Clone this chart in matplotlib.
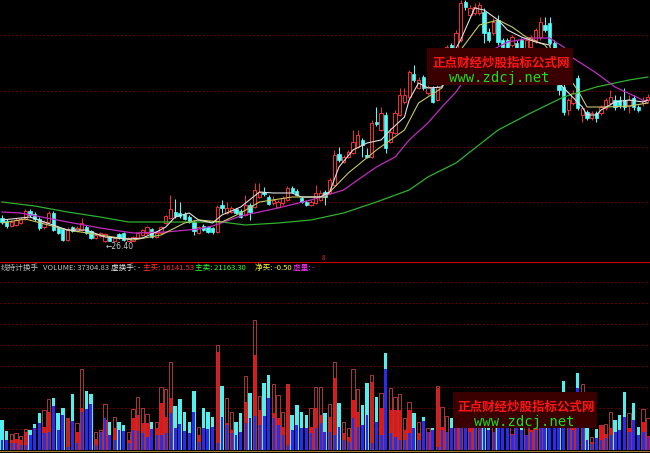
import numpy as np
import matplotlib
matplotlib.use('Agg')
import matplotlib.pyplot as plt
from matplotlib.patches import Rectangle

plt.rcParams['font.family'] = ['Noto Sans CJK SC', 'DejaVu Sans']

# daily candles (price units)
opens = [28.8, 28.5, 28.0, 28.1, 28.3, 28.7, 29.5, 29.2, 28.7, 27.9,
         28.4, 29.3, 27.8, 27.7, 26.6, 27.9, 27.5, 27.6, 27.9, 27.5,
         26.8, 27.0, 26.5, 26.9, 26.5, 27.2, 27.3, 26.5, 26.5, 26.8,
         27.1, 27.3, 27.7, 26.9, 27.3, 28.3, 28.8, 29.4, 29.3, 29.2,
         28.9, 28.4, 27.3, 28.0, 27.9, 27.8, 27.4, 30.1, 29.3, 29.4,
         29.7, 29.5, 29.1, 30.1, 29.9, 30.9, 31.4, 30.9, 30.3, 29.9,
         30.3, 30.6, 31.8, 31.5, 30.8, 30.4, 30.1, 30.3, 30.6, 31.4,
         31.3, 32.1, 35.2, 34.4, 34.9, 35.3, 35.9, 36.6, 35.1, 34.9,
         38.4, 37.6, 39.1, 36.4, 37.3, 39.1, 40.4, 40.9, 43.2, 41.8,
         42.9, 41.3, 41.8, 40.6, 43.1, 45.1, 46.1, 45.8, 46.6, 50.4,
         49.1, 49.3, 49.3, 49.4, 47.4, 47.3, 48.6, 46.6, 46.6, 46.1,
         46.3, 46.6, 45.8, 45.9, 46.6, 46.9, 48.1, 48.3, 46.3, 42.1,
         41.9, 39.6, 40.3, 42.8, 39.1, 39.4, 38.8, 39.3, 39.3, 39.8,
         40.3, 40.6, 40.6, 40.6, 40.0, 40.8, 39.9, 40.3, 40.6]
closes = [28.4, 28.0, 28.4, 28.6, 28.7, 29.5, 29.1, 28.7, 27.8, 28.4,
          29.3, 27.6, 27.3, 26.6, 27.7, 27.5, 27.8, 28.3, 27.3, 26.8,
          27.1, 27.3, 27.2, 26.5, 26.8, 26.8, 26.6, 26.8, 26.9, 27.3,
          27.6, 27.9, 26.9, 27.3, 27.9, 29.0, 29.7, 29.0, 29.0, 28.7,
          28.4, 27.5, 27.9, 27.6, 27.4, 27.4, 29.9, 29.8, 29.8, 29.8,
          29.3, 28.9, 30.1, 29.4, 31.6, 31.4, 31.2, 30.2, 30.6, 30.4,
          30.8, 31.8, 31.4, 31.1, 30.4, 30.1, 30.4, 31.3, 31.3, 30.9,
          32.6, 35.1, 34.6, 34.9, 35.4, 36.4, 37.1, 36.1, 34.9, 38.3,
          38.2, 39.3, 35.8, 37.4, 39.3, 41.1, 41.1, 43.4, 42.6, 42.6,
          41.8, 41.9, 40.4, 41.9, 45.1, 45.9, 45.4, 47.3, 50.3, 49.9,
          49.8, 49.9, 50.1, 47.3, 46.6, 48.4, 46.4, 45.9, 45.8, 46.9,
          45.6, 45.8, 46.6, 46.9, 47.6, 48.4, 47.6, 46.3, 43.6, 41.6,
          39.4, 40.6, 41.3, 39.8, 39.8, 38.8, 39.3, 38.8, 39.9, 40.6,
          40.9, 39.9, 40.1, 39.9, 40.6, 39.9, 39.6, 40.6, 40.9]
highs = [29.1, 28.7, 28.6, 28.8, 28.9, 29.7, 29.7, 29.4, 28.9, 28.6,
         29.5, 29.5, 28.0, 27.8, 27.9, 28.0, 28.0, 28.8, 28.1, 27.6,
         27.2, 27.4, 27.3, 27.0, 26.9, 27.3, 27.4, 26.9, 27.0, 27.4,
         27.7, 28.0, 27.8, 27.5, 28.0, 29.1, 31.1, 30.7, 30.4, 29.4,
         29.1, 28.6, 28.0, 28.2, 28.0, 27.9, 30.1, 30.6, 30.4, 30.0,
         29.8, 29.7, 31.1, 30.3, 32.3, 32.3, 31.9, 31.1, 31.0, 30.6,
         31.0, 32.0, 32.0, 31.7, 30.9, 30.6, 30.6, 32.1, 31.6, 31.6,
         32.8, 35.6, 35.9, 35.1, 35.6, 37.6, 37.6, 36.8, 35.8, 38.6,
         39.9, 39.9, 39.4, 37.8, 39.6, 41.8, 41.8, 43.6, 44.1, 42.9,
         43.1, 42.1, 42.0, 42.1, 45.6, 46.1, 46.3, 47.6, 50.6, 50.6,
         50.1, 50.3, 50.4, 49.8, 47.8, 48.8, 49.1, 46.8, 46.8, 47.1,
         46.6, 46.8, 46.8, 47.1, 47.8, 48.9, 48.9, 48.9, 46.6, 43.1,
         42.6, 40.8, 41.6, 43.1, 40.0, 39.6, 39.5, 39.5, 40.1, 40.8,
         41.6, 41.1, 41.0, 41.8, 41.1, 41.1, 40.1, 40.9, 41.2]
lows = [28.2, 27.8, 27.9, 28.0, 28.2, 28.6, 28.9, 28.5, 27.6, 27.7,
        28.3, 27.5, 27.2, 26.5, 26.5, 27.4, 27.4, 27.5, 27.2, 26.7,
        26.7, 26.9, 26.4, 26.5, 26.5, 26.7, 26.5, 26.5, 26.5, 26.7,
        27.0, 27.2, 26.8, 26.8, 27.2, 28.2, 28.7, 28.8, 28.8, 28.6,
        28.3, 27.1, 27.2, 27.5, 27.3, 27.2, 27.3, 29.3, 29.2, 29.3,
        29.2, 28.8, 29.0, 28.6, 29.8, 30.8, 31.0, 30.1, 30.1, 29.8,
        30.1, 30.5, 31.3, 31.0, 30.3, 30.0, 30.0, 30.2, 30.5, 30.1,
        31.2, 32.0, 34.4, 34.3, 34.8, 35.2, 35.8, 34.9, 34.8, 34.8,
        38.0, 37.5, 35.3, 36.3, 37.2, 39.0, 40.2, 40.8, 42.4, 41.7,
        41.6, 41.1, 40.3, 40.5, 42.9, 44.8, 45.1, 45.6, 46.4, 49.6,
        48.9, 49.1, 49.1, 46.3, 46.4, 47.1, 46.1, 45.6, 45.6, 45.9,
        45.1, 45.4, 45.4, 45.6, 46.3, 46.6, 47.4, 46.1, 43.1, 41.1,
        39.1, 39.1, 40.1, 39.6, 38.4, 38.6, 38.6, 38.4, 39.1, 39.6,
        40.1, 39.6, 39.8, 39.6, 39.3, 39.6, 39.4, 40.0, 40.4]

# moving averages (bar index, price)
ma5_idx = [0, 6, 9, 14, 18, 22, 27, 30, 33, 35, 37, 40, 42, 45, 47, 51, 55, 58, 62, 64,
           68, 70, 72, 75, 78, 81, 83, 86, 87, 89, 91, 94, 95, 98, 101, 103, 106, 108, 111, 114,
           117, 119, 124, 125, 127, 128, 131, 134, 137, 138]
ma5_val = [28.6, 28.9, 28.4, 27.6, 27.6, 26.9, 26.7, 26.8, 27.4, 27.9, 28.9, 29.3, 28.6, 28.3, 29.1, 29.9, 31.4, 31.3, 31.3, 30.9,
           30.9, 31.4, 33.9, 35.6, 36.3, 36.6, 37.6, 38.9, 40.6, 42.3, 41.8, 41.9, 44.1, 46.6, 49.8, 49.6, 48.6, 47.6, 46.9, 46.4,
           46.1, 42.3, 39.9, 39.1, 39.1, 39.6, 40.4, 40.6, 40.4, 40.6]
ma10_idx = [0, 5, 14, 21, 28, 34, 39, 42, 47, 51, 55, 62, 69, 74, 80, 86, 89, 94, 98, 102,
            106, 109, 112, 116, 120, 123, 125, 129, 134, 138]
ma10_val = [28.3, 28.7, 27.6, 27.1, 26.6, 27.1, 28.3, 28.6, 28.4, 29.3, 30.4, 30.9, 30.9, 33.3, 35.6, 37.6, 40.3, 41.8, 45.6, 48.1,
            48.6, 47.9, 46.9, 46.1, 43.6, 41.6, 39.9, 39.9, 40.0, 40.3]
ma20_idx = [0, 4, 14, 21, 28, 35, 42, 45, 51, 59, 66, 73, 76, 80, 84, 87, 91, 94, 97, 100,
            104, 108, 113, 117, 120, 122, 127, 131, 136, 138]
ma20_val = [29.4, 29.3, 28.4, 27.8, 27.3, 27.4, 27.7, 28.0, 29.0, 29.8, 30.6, 31.6, 32.6, 33.9, 34.9, 36.6, 38.3, 39.9, 41.4, 43.4,
            45.4, 46.4, 46.8, 46.8, 45.9, 44.8, 43.3, 41.9, 40.8, 40.3]
ma60_idx = [0, 7, 14, 21, 27, 38, 47, 52, 59, 66, 73, 80, 87, 91, 97, 106, 113, 120, 127, 134, 138]
ma60_val = [30.4, 30.0, 29.4, 28.9, 28.4, 28.4, 28.4, 28.1, 28.3, 28.6, 29.3, 30.4, 31.6, 32.9, 34.3, 37.6, 39.3, 40.9, 41.9, 42.6, 42.9]

# volume panel: total, main-buy part (up days), blue part
volume = [30, 19, 16, 17, 14, 21, 20, 26, 37, 40, 51, 52, 37, 42, 32, 56, 27, 81, 59, 56,
          18, 20, 46, 28, 33, 28, 25, 18, 41, 53, 42, 36, 28, 28, 63, 61, 88, 44, 51, 38,
          28, 59, 23, 42, 38, 33, 105, 64, 52, 38, 28, 37, 74, 57, 130, 54, 67, 75, 66, 55,
          38, 66, 35, 45, 38, 35, 42, 63, 63, 37, 46, 88, 47, 28, 22, 81, 61, 45, 67, 75,
          53, 57, 97, 62, 53, 56, 32, 48, 37, 28, 33, 22, 22, 64, 43, 34, 32, 40, 55, 45,
          38, 35, 42, 50, 36, 30, 48, 40, 33, 28, 36, 30, 26, 32, 38, 44, 35, 50, 42, 55,
          69, 45, 40, 77, 66, 22, 13, 21, 25, 26, 38, 30, 35, 58, 37, 47, 23, 41, 32]
buy = [0, 0, 10, 11, 10, 18, 0, 0, 0, 23, 38, 0, 0, 0, 32, 0, 18, 42, 0, 0,
       11, 14, 30, 0, 22, 0, 0, 10, 32, 35, 27, 27, 0, 22, 47, 33, 52, 0, 0, 0,
       0, 0, 15, 0, 0, 0, 98, 0, 27, 20, 0, 0, 48, 0, 95, 40, 0, 0, 37, 32,
       23, 66, 0, 0, 0, 0, 23, 42, 35, 0, 33, 72, 0, 17, 13, 50, 38, 0, 0, 68,
       0, 42, 0, 40, 40, 40, 20, 40, 0, 17, 0, 18, 0, 62, 23, 18, 0, 25, 35, 0,
       22, 20, 28, 0, 0, 18, 0, 0, 0, 16, 0, 0, 15, 20, 25, 30, 0, 0, 0, 0,
       0, 28, 25, 0, 45, 0, 8, 0, 25, 16, 22, 0, 0, 0, 22, 0, 0, 28, 14]
blue = [10, 10, 7, 7, 5, 5, 15, 22, 27, 17, 18, 44, 20, 35, 3, 29, 7, 38, 41, 46,
        5, 18, 32, 15, 10, 20, 19, 7, 20, 19, 17, 13, 21, 15, 15, 17, 37, 22, 26, 19,
        17, 38, 8, 22, 21, 23, 7, 33, 25, 17, 15, 18, 27, 32, 34, 25, 34, 52, 32, 25,
        15, 5, 20, 25, 22, 22, 17, 22, 27, 18, 18, 15, 23, 10, 8, 32, 23, 25, 35, 7,
        28, 15, 81, 17, 13, 10, 10, 17, 22, 10, 29, 18, 20, 3, 20, 18, 22, 25, 30, 28,
        18, 22, 25, 32, 20, 18, 30, 25, 22, 15, 24, 20, 15, 18, 20, 22, 25, 30, 28, 35,
        22, 25, 20, 62, 30, 10, 6, 12, 10, 12, 15, 18, 20, 33, 18, 30, 15, 18, 13]

price_grid = [30.4, 35.9, 41.5, 47.1]
vol_grid = [21, 42, 63, 84, 105, 126, 147, 168]

header = [('线持计换手', '#c0c0c0'), ('VOLUME: 37304.83', '#c0c0c0'), ('虚换手: -', '#e8e8e8'),
          ('主买: 16141.53', '#ff3030'), ('主卖: 21163.30', '#30ff30'),
          ('净买: -0.50', '#ffff30'), ('虚量: -', '#ff30ff')]
header_x = [1, 43, 111, 143, 195, 255, 293]

RED = '#e83030'
CYAN = '#54fcfc'

o = np.array(opens); c = np.array(closes)
h = np.array(highs); l = np.array(lows)
n = len(o)
x = np.arange(n)
up = c >= o

fig = plt.figure(figsize=(6.5, 4.53), dpi=100, facecolor='black')
W, H = 650.0, 453.0
ax = fig.add_axes([0, (H - 262) / H, 1, 262 / H], facecolor='black')
ax2 = fig.add_axes([0, 3 / H, 1, 188 / H], facecolor='black', sharex=ax)
for a in (ax, ax2):
    a.set_axis_off()
ax.set_xlim(-2 / 4.68, 648 / 4.68)
ax.set_ylim(24.4, 50.6)
ax2.set_ylim(0, 188)

for g in price_grid:
    ax.axhline(g, color='#6a0000', lw=0.7, ls=(0, (2, 2)), zorder=0)
for g in vol_grid:
    ax2.axhline(g, color='#6a0000', lw=0.7, ls=(0, (2, 2)), zorder=0)

# candles
ax.vlines(x, l, h, colors=np.where(up, RED, CYAN), lw=0.75, zorder=2)
body = np.maximum(np.abs(c - o), 0.06)
ax.bar(x[up], body[up], bottom=np.minimum(o, c)[up], width=0.7,
       facecolor='black', edgecolor=RED, lw=0.75, zorder=3)
ax.bar(x[~up], body[~up], bottom=np.minimum(o, c)[~up], width=0.7,
       facecolor=CYAN, edgecolor=CYAN, lw=0.5, zorder=3)

ax.plot(ma60_idx, ma60_val, color='#2fb02f', lw=0.9, zorder=4)
ax.plot(ma20_idx, ma20_val, color='#c02cc0', lw=0.9, zorder=4)
ax.plot(ma10_idx, ma10_val, color='#c8c860', lw=0.8, zorder=4)
ax.plot(ma5_idx, ma5_val, color='#e0e0e0', lw=0.8, zorder=4)

lo_i = int(np.argmin(l))
ax.text(lo_i + 0.2, l[lo_i] - 0.45, '←%.2f' % l[lo_i], color='#c8c8c8',
        fontsize=5.5, va='center', ha='left', family=['DejaVu Sans'], zorder=5)

# volume bars
v = np.array(volume); b = np.array(buy); bl = np.array(blue)
ax2.bar(x[~up], v[~up], width=0.72, color='#50f0f0', lw=0, zorder=2)
ax2.bar(x[up], b[up], width=0.72, color='#f01010', lw=0, zorder=2)
ax2.bar(x, bl, width=0.62, color='#2b2bf0', lw=0, zorder=3)
ax2.bar(x[up], v[up], width=0.72, fill=False, edgecolor='#a83838', lw=0.7, zorder=4)

# overlay in pixel coordinates: separators, header, watermarks
ov = fig.add_axes([0, 0, 1, 1], facecolor='none')
ov.set_axis_off()
ov.set_xlim(0, W)
ov.set_ylim(H, 0)
ov.plot([0, W], [261.5, 261.5], color='#d00000', lw=0.8)
ov.plot([0, W], [450.5, 450.5], color='#a08030', lw=0.8)
ov.text(323, 258, '8', color='#ff2020', fontsize=4.5, ha='center', va='center')
for (t, col), hx in zip(header, header_x):
    ov.text(hx, 268, t, color=col, fontsize=5.5, ha='left', va='center')

for bx0, by0, bx1, by1 in [(427, 48, 573, 85), (453, 392, 597, 428)]:
    ov.add_patch(Rectangle((bx0, by0), bx1 - bx0, by1 - by0, facecolor='#3a0000',
                           edgecolor='none', zorder=6))
    cx = (bx0 + bx1) / 2
    ov.text(cx + 1, by0 + 15, '正点财经炒股指标公式网', color='#ff1414', fontsize=9,
            fontweight='bold', ha='center', va='center', zorder=7)
    ov.text(cx - 1, by0 + 30, 'www.zdcj.net', color='#18e018', fontsize=10,
            family=['DejaVu Sans Mono'], ha='center', va='center', zorder=7)

fig.savefig('out.png', dpi=100, facecolor='black')
